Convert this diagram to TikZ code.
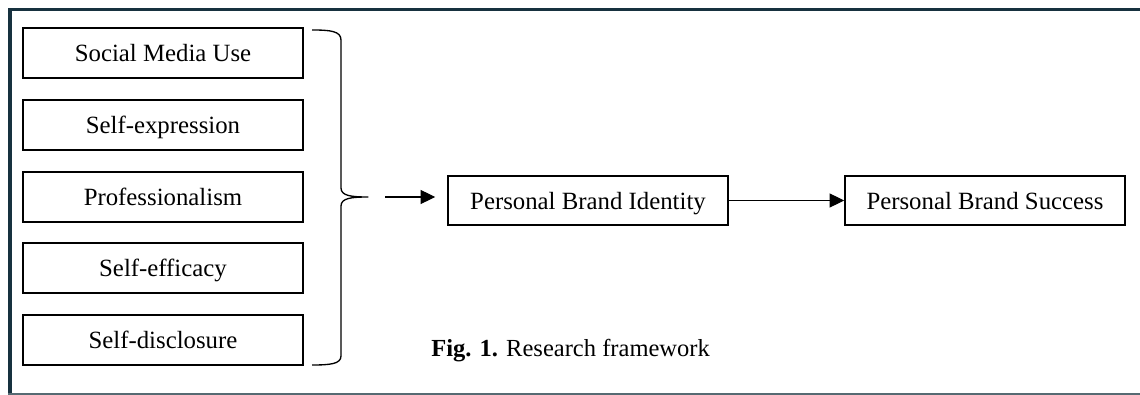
\documentclass[tikz,border=0pt]{standalone}
\usepackage{fontspec}
\setmainfont{Liberation Serif}
\usetikzlibrary{arrows.meta}
\definecolor{framenavy}{HTML}{17313F}
\definecolor{framegrey}{HTML}{566A72}
\begin{document}
\begin{tikzpicture}[x=0.75pt,y=-0.75pt,
  factor/.style={draw=black,line width=1.1pt,minimum width=280*0.75pt,minimum height=50*0.75pt,inner sep=0pt,text height=13.5pt,text depth=0pt,align=center,font=\fontsize{18.6pt}{22pt}\selectfont},
  outcome/.style={factor,minimum height=49*0.75pt},
  link/.style={line width=0.8pt,-{Triangle[length=11pt,width=10.5pt]}},
  bracestyle/.style={line width=1pt,line join=round}
]
\useasboundingbox (0,0) rectangle (1140,395);
% frame
\draw[framenavy,line width=2.6pt] (10,395) -- (10,9.5) -- (1140,9.5);
\draw[framegrey,line width=1.3pt] (8,394) -- (1140,394);
% left factors
\node[factor] (sm) at (163,53) {Social Media Use};
\node[factor] (se) at (163,125) {Self-expression};
\node[factor] (pr) at (163,197) {Professionalism};
\node[factor] (ef) at (163,268) {Self-efficacy};
\node[factor] (sd) at (163,340) {Self-disclosure};
% brace
\draw[bracestyle] (312,30) .. controls (330,30) and (341,31) .. (341,40) -- (341,188)
  .. controls (341,196) and (352,197) .. (368,197)
  .. controls (352,197) and (341,198) .. (341,206) -- (341,356)
  .. controls (341,364) and (330,365) .. (312,365);
% outcomes
\node[outcome] (pbi) at (588,200.5) {Personal Brand Identity};
\node[outcome] (pbs) at (985,200.5) {Personal Brand Success};
\coordinate (bstart) at (385,197);
\draw[link,shorten >=9pt] (bstart) -- (bstart -| pbi.west);
\draw[link] (pbi.east) -- (pbs.west);
% caption
\node[anchor=base west,inner sep=0pt,font=\fontsize{18.4pt}{22pt}\selectfont] (cap) at (431,357) {\textbf{Fig. 1.} Research framework};
\end{tikzpicture}
\end{document}
